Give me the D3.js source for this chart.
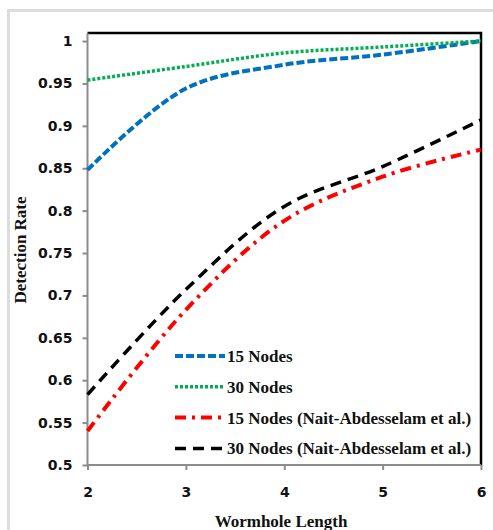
<!DOCTYPE html>
<html>
<head>
<meta charset="utf-8">
<script src="https://cdn.jsdelivr.net/npm/d3@7"></script>
<style>
  body { margin: 0; background: #fff; }
  .axis path, .axis line { stroke: #8c8c8c; stroke-width: 2px; }
  .axis text { font-family: "DejaVu Sans", sans-serif; font-weight: bold; font-size: 14px; fill: #111; }
  .serif { font-family: "Liberation Serif", "Times New Roman", serif; font-weight: bold; fill: #111; }
</style>
</head>
<body>
<div id="chart"></div>
<script>
// data
var lengths = [2, 3, 4, 5, 6];
var nodes15 = [0.848, 0.944, 0.972, 0.984, 1.0];
var nodes30 = [0.954, 0.970, 0.986, 0.993, 1.0];
var nait15 = [0.540, 0.683, 0.788, 0.840, 0.872];
var nait30 = [0.583, 0.707, 0.805, 0.852, 0.907];

var xTicks = [2, 3, 4, 5, 6];
var xTickLabels = ['2', '3', '4', '5', '6'];
var yTicks = [0.5, 0.55, 0.6, 0.65, 0.7, 0.75, 0.8, 0.85, 0.9, 0.95, 1];
var yTickLabels = ['0.5', '0.55', '0.6', '0.65', '0.7', '0.75', '0.8', '0.85', '0.9', '0.95', '1'];

var series = [
  {name: '15 Nodes', values: nodes15, color: '#0070c0', width: 4, dash: '8,3'},
  {name: '30 Nodes', values: nodes30, color: '#00b050', width: 3.5, dash: '3,2'},
  {name: '15 Nodes (Nait-Abdesselam et al.)', values: nait15, color: '#ff0000', width: 4, dash: '11,6,3,6'},
  {name: '30 Nodes (Nait-Abdesselam et al.)', values: nait30, color: '#000000', width: 3.5, dash: '11,7'}
];

var W = 493, H = 530;
var margin = {top: 33, right: 12, bottom: 65, left: 87.5};

var svg = d3.select('#chart').append('svg')
    .attr('width', W)
    .attr('height', H);

// outer chart border
svg.append('rect')
    .attr('x', 8.5)
    .attr('y', 10.5)
    .attr('width', W + 20)
    .attr('height', H + 20)
    .attr('fill', 'none')
    .attr('stroke', '#dcdcdc')
    .attr('stroke-width', 3);

var x = d3.scaleLinear().domain([2, 6]).range([margin.left, W - margin.right]);
var y = d3.scaleLinear().domain([0.5, 1.0095]).range([H - margin.bottom, margin.top]);

// plot frame: top and right in black
svg.append('path')
    .attr('d', 'M' + x(2) + ',' + y(1.0095) + 'H' + x(6) + 'V' + y(0.5))
    .attr('fill', 'none')
    .attr('stroke', '#000')
    .attr('stroke-width', 2.5);

svg.append('g')
    .attr('class', 'axis')
    .attr('transform', 'translate(' + x(2) + ',0)')
    .call(d3.axisLeft(y).tickValues(yTicks).tickSize(5).tickPadding(10)
        .tickFormat(function(d, i) { return yTickLabels[i]; }))
    .call(function(g) { g.select('.domain').attr('d', 'M0,' + y(1.0095) + 'V' + y(0.5)); });

svg.append('g')
    .attr('class', 'axis')
    .attr('transform', 'translate(0,' + y(0.5) + ')')
    .call(d3.axisBottom(x).tickValues(xTicks).tickSize(5).tickPadding(17)
        .tickFormat(function(d, i) { return xTickLabels[i]; }))
    .call(function(g) { g.select('.domain').attr('d', 'M' + x(2) + ',0H' + x(6)); });

var line = d3.line()
    .x(function(d) { return x(d[0]); })
    .y(function(d) { return y(d[1]); })
    .curve(d3.curveCatmullRom);

series.forEach(function(s) {
  svg.append('path')
      .datum(lengths.map(function(l, i) { return [l, s.values[i]]; }))
      .attr('d', line)
      .attr('fill', 'none')
      .attr('stroke', s.color)
      .attr('stroke-width', s.width)
      .attr('stroke-dasharray', s.dash);
});

// legend
var legend = svg.append('g').attr('transform', 'translate(175,356)');
series.forEach(function(s, i) {
  legend.append('line')
      .attr('x1', 0)
      .attr('x2', 50)
      .attr('y1', i * 30.8)
      .attr('y2', i * 30.8)
      .attr('stroke', s.color)
      .attr('stroke-width', s.width)
      .attr('stroke-dasharray', s.dash);
  legend.append('text')
      .attr('class', 'serif')
      .attr('x', 52)
      .attr('y', i * 30.8 + 6)
      .style('font-size', '17px')
      .text(s.name);
});

// axis titles
svg.append('text')
    .attr('class', 'serif')
    .attr('x', 281)
    .attr('y', 527)
    .attr('text-anchor', 'middle')
    .style('font-size', '17px')
    .text('Wormhole Length');

svg.append('text')
    .attr('class', 'serif')
    .attr('transform', 'translate(26,250) rotate(-90)')
    .attr('text-anchor', 'middle')
    .style('font-size', '17px')
    .text('Detection Rate');
</script>
</body>
</html>
